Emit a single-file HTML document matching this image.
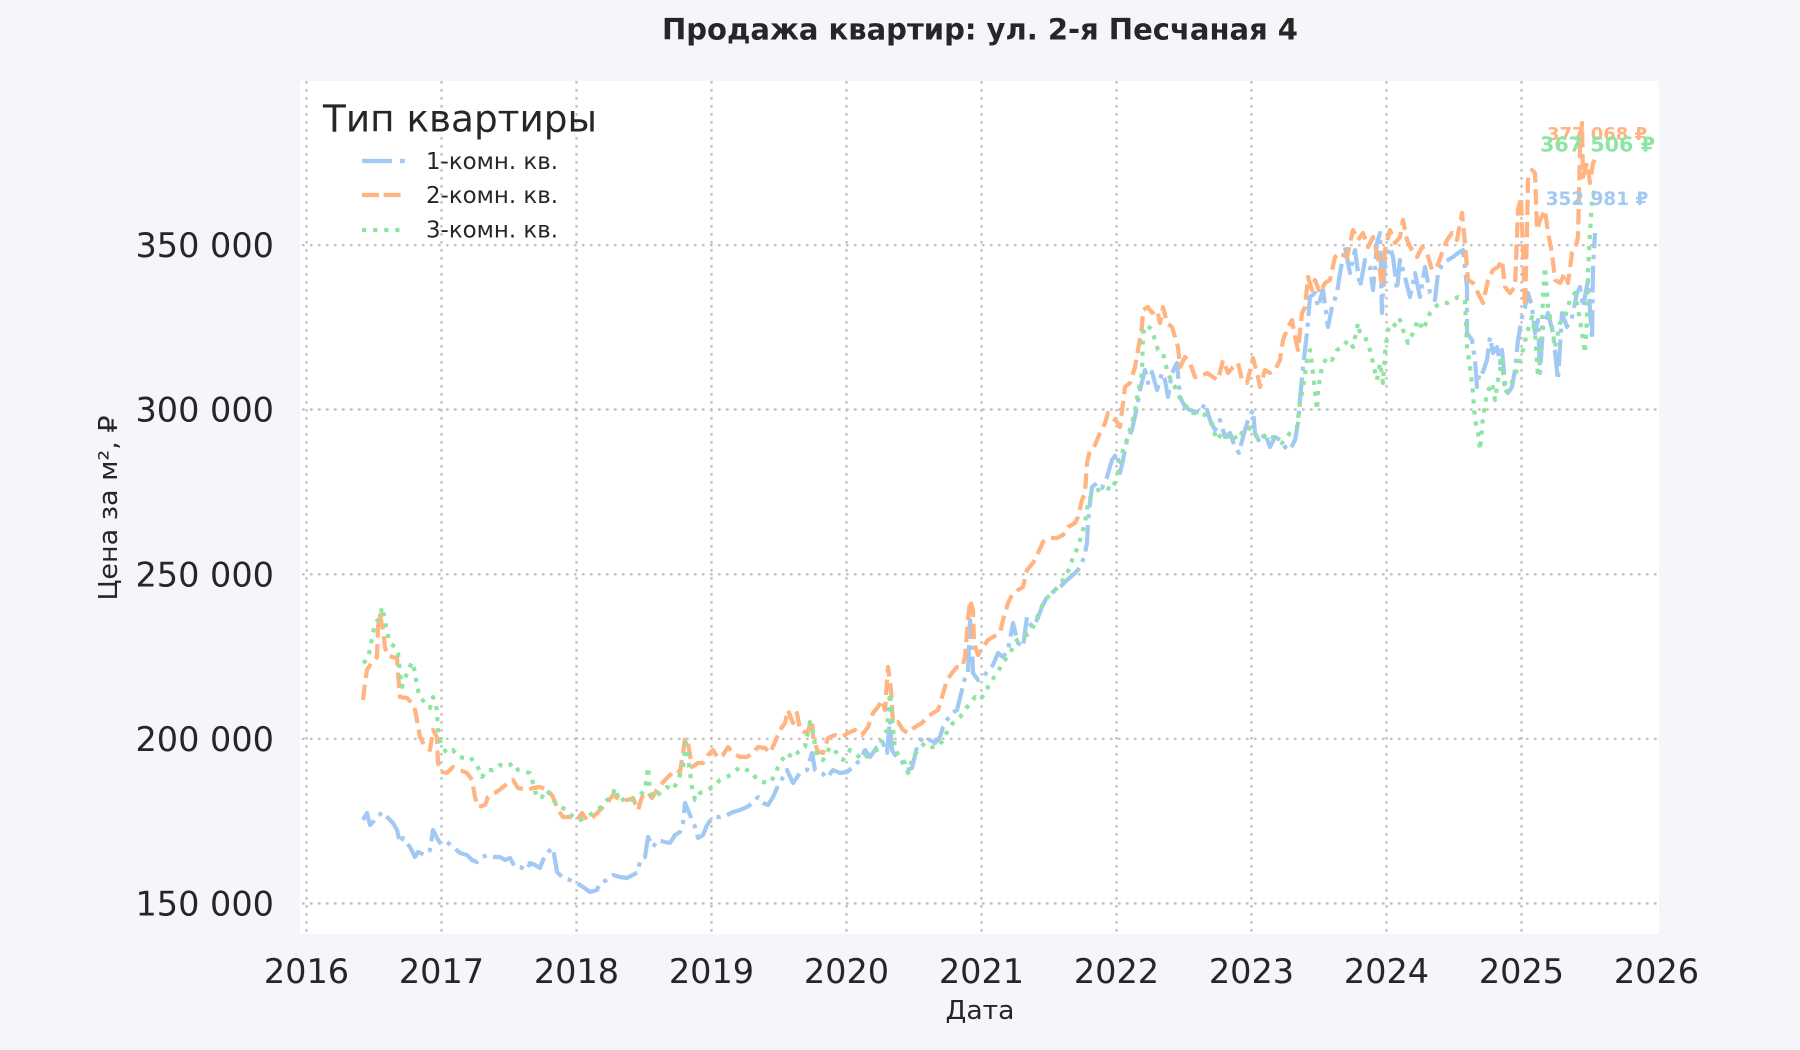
<!DOCTYPE html>
<html><head><meta charset="utf-8"><style>
html,body{margin:0;padding:0;background:#f4f6fa;}
svg{display:block;}
text{font-family:"DejaVu Sans","Liberation Sans",sans-serif;fill:#262626;}
</style></head><body>
<svg width="1800" height="1050" viewBox="0 0 1800 1050" xmlns="http://www.w3.org/2000/svg">
<rect x="0" y="0" width="1800" height="1050" fill="#f4f6fa"/>
<rect x="300" y="81" width="1359" height="853" fill="#ffffff"/>
<g stroke="#bdbdbd" stroke-width="2.2" stroke-dasharray="2.6 5.4" fill="none">
<line x1="306.5" y1="81" x2="306.5" y2="934"/>
<line x1="441.5" y1="81" x2="441.5" y2="934"/>
<line x1="576.5" y1="81" x2="576.5" y2="934"/>
<line x1="711.5" y1="81" x2="711.5" y2="934"/>
<line x1="846.5" y1="81" x2="846.5" y2="934"/>
<line x1="981.5" y1="81" x2="981.5" y2="934"/>
<line x1="1116.5" y1="81" x2="1116.5" y2="934"/>
<line x1="1251.5" y1="81" x2="1251.5" y2="934"/>
<line x1="1386.5" y1="81" x2="1386.5" y2="934"/>
<line x1="1521.5" y1="81" x2="1521.5" y2="934"/>
<line x1="302" y1="903.5" x2="1657" y2="903.5"/>
<line x1="302" y1="738.8" x2="1657" y2="738.8"/>
<line x1="302" y1="574.3" x2="1657" y2="574.3"/>
<line x1="302" y1="409.5" x2="1657" y2="409.5"/>
<line x1="302" y1="245.2" x2="1657" y2="245.2"/>
</g>
<!-- y tick labels -->
<g font-size="33.5" text-anchor="end">
<text x="274" y="915.5">150 000</text>
<text x="274" y="750.8">200 000</text>
<text x="274" y="586.3">250 000</text>
<text x="274" y="421.5">300 000</text>
<text x="274" y="257.2">350 000</text>
</g>
<!-- x tick labels -->
<g font-size="33.5" text-anchor="middle">
<text x="306.5" y="983">2016</text>
<text x="441.5" y="983">2017</text>
<text x="576.5" y="983">2018</text>
<text x="711.5" y="983">2019</text>
<text x="846.5" y="983">2020</text>
<text x="981.5" y="983">2021</text>
<text x="1116.5" y="983">2022</text>
<text x="1251.5" y="983">2023</text>
<text x="1386.5" y="983">2024</text>
<text x="1521.5" y="983">2025</text>
<text x="1656.5" y="983">2026</text>
</g>
<text x="980" y="1019" font-size="25.5" text-anchor="middle" textLength="69" lengthAdjust="spacingAndGlyphs">Дата</text>
<text transform="translate(117,508) rotate(-90)" font-size="25.5" text-anchor="middle" textLength="185" lengthAdjust="spacingAndGlyphs">Цена за м², ₽</text>
<text x="980" y="39.3" font-size="29.2" font-weight="bold" text-anchor="middle" textLength="636" lengthAdjust="spacingAndGlyphs">Продажа квартир: ул. 2-я Песчаная 4</text>

<g fill="none" stroke-width="4.2" stroke-linejoin="round">
<polyline stroke="#a1c9f4" stroke-dasharray="26.7 6.7 4.2 6.7" points="363,820 367,813 370,825 377,818 382,812 387,817 393,823 397,830 400,843 403,838 410,847 415,857 418,852 425,855 430,850 433,830 437,838 440,843 447,842 453,847 460,853 467,855 472,860 477,862 482,857 488,855 495,857 500,857 505,860 510,858 515,867 520,867 527,870 530,863 535,865 540,868 543,860 548,852 553,848 555,860 557,872 563,878 570,880 577,883 583,887 590,892 597,890 600,883 607,880 613,875 620,877 627,878 633,875 638,872 640,860 645,857 648,837 653,847 658,840 665,842 670,843 675,835 680,832 683,823 685,803 688,810 692,820 695,827 698,838 703,835 707,825 713,817 720,817 727,815 733,812 740,810 747,807 753,803 758,797 763,803 768,805 773,797 777,788 787,770 793,783 800,773 807,770 812,753 815,770 822,773 827,778 833,770 840,773 847,772 853,767 860,760 865,750 870,757 877,747 883,743 887,753 890,720 892,750 895,755 900,758 907,770 912,768 917,747 923,737 930,740 935,743 940,737 943,727 947,720 952,713 957,710 962,690 965,678 968,673 970,620 972,640 973,673 978,680 983,678 988,670 993,665 998,653 1003,657 1008,650 1013,623 1018,643 1023,647 1027,617 1032,627 1037,620 1042,607 1047,597 1053,592 1060,587 1067,580 1073,575 1078,570 1082,563 1085,553 1087,543 1088,523 1090,503 1092,487 1097,483 1102,488 1107,477 1112,460 1117,453 1120,473 1123,460 1127,440 1132,430 1137,407 1140,390 1145,370 1148,383 1152,372 1157,390 1162,373 1165,380 1168,397 1172,373 1177,363 1180,397 1185,407 1190,410 1197,412 1200,413 1205,403 1210,420 1215,430 1220,420 1225,437 1230,433 1235,447 1239,453 1243,437 1248,420 1253,410 1255,433 1260,443 1265,433 1270,447 1275,437 1280,440 1285,447 1290,450 1295,440 1298,423 1300,400 1303,367 1307,333 1310,297 1315,293 1318,307 1323,290 1328,327 1332,307 1337,293 1340,273 1345,247 1350,273 1355,250 1360,287 1365,260 1370,267 1373,290 1377,243 1380,233 1382,313 1385,260 1390,247 1393,257 1397,290 1400,260 1405,277 1410,297 1415,273 1420,297 1425,267 1430,293 1435,300 1438,273 1443,263 1448,260 1453,257 1458,253 1463,250 1467,287 1467,333 1472,340 1475,360 1477,387 1480,370 1483,372 1487,360 1490,337 1493,353 1497,347 1500,363 1502,350 1505,383 1508,393 1512,387 1515,370 1518,340 1522,317 1525,307 1528,293 1532,307 1535,333 1538,320 1540,373 1543,327 1548,313 1553,333 1558,380 1562,313 1567,327 1572,317 1577,293 1580,287 1583,307 1588,280 1592,340 1593,267 1595,233"/>
<polyline stroke="#ffb482" stroke-dasharray="15.4 6.7" points="363,700 365,683 367,670 372,662 377,657 378,627 380,615 383,630 385,647 387,655 392,657 397,658 398,673 400,697 407,698 412,703 415,710 417,720 420,737 425,747 430,750 433,730 437,737 438,763 442,772 447,773 453,767 460,770 467,773 472,780 475,797 478,807 485,805 488,797 495,793 502,788 508,783 513,780 518,788 527,790 533,788 540,787 548,790 553,797 558,810 563,817 570,817 577,820 582,813 587,820 593,817 600,810 607,803 613,795 620,800 628,800 633,798 638,810 642,797 647,792 652,798 658,788 665,780 670,775 675,770 680,772 683,753 685,738 688,743 692,767 698,763 703,763 708,755 713,750 718,758 723,755 728,747 733,753 740,757 747,757 753,753 758,747 765,748 770,753 775,742 780,730 785,723 788,710 793,723 797,713 800,730 807,733 812,720 813,737 818,752 823,753 828,738 835,735 842,737 848,733 855,730 862,735 868,727 873,713 878,707 882,700 885,710 888,667 891,690 893,723 898,722 903,730 908,733 915,727 922,723 927,717 933,713 938,710 942,697 947,680 952,673 957,667 962,667 965,657 968,620 970,600 973,610 974,643 978,655 983,647 988,640 993,637 1000,633 1003,620 1008,603 1013,593 1018,590 1023,587 1027,570 1033,563 1038,553 1043,542 1050,538 1057,538 1063,535 1068,527 1075,523 1078,517 1082,500 1085,493 1087,463 1090,450 1095,445 1100,433 1105,423 1108,413 1112,417 1117,422 1120,427 1125,387 1130,383 1135,367 1138,350 1142,327 1143,310 1148,307 1152,313 1157,310 1160,323 1163,307 1167,323 1172,327 1175,337 1178,347 1180,367 1185,357 1190,363 1195,377 1200,377 1207,373 1213,377 1218,380 1223,360 1228,373 1233,367 1238,363 1242,380 1247,383 1253,358 1258,377 1260,387 1265,370 1270,373 1275,370 1280,360 1283,340 1288,327 1292,320 1295,337 1298,350 1302,313 1305,307 1308,277 1312,290 1315,280 1320,293 1325,283 1330,280 1335,257 1340,253 1347,257 1353,230 1358,240 1363,233 1368,247 1373,237 1378,257 1382,287 1385,250 1390,230 1395,243 1400,237 1403,220 1407,240 1412,250 1417,257 1422,247 1427,253 1432,270 1437,267 1442,253 1447,240 1452,233 1457,240 1462,213 1465,243 1468,280 1473,283 1478,293 1483,303 1488,280 1493,270 1498,267 1502,260 1505,287 1510,293 1515,287 1518,210 1521,197 1523,250 1525,307 1527,233 1528,180 1532,170 1535,173 1537,230 1540,220 1545,210 1548,233 1552,253 1555,280 1560,283 1565,273 1568,283 1572,253 1575,250 1578,237 1580,150 1582,123 1583,177 1587,163 1590,183 1593,163 1597,156"/>
<polyline stroke="#8de5a1" stroke-dasharray="4.2 6.9" points="363,663 367,660 370,650 372,638 375,623 380,618 382,607 385,620 387,632 390,643 395,647 398,653 400,673 402,687 407,673 412,662 415,672 417,687 420,697 425,703 430,708 433,697 437,710 438,733 442,747 447,753 453,750 458,757 465,758 470,757 477,765 482,777 487,770 493,770 500,765 507,767 513,763 518,770 525,772 530,773 533,783 537,798 542,797 547,790 553,800 560,807 567,810 573,817 580,820 587,817 593,813 600,808 607,800 612,797 615,788 620,802 625,798 633,800 640,795 645,790 648,767 650,790 653,798 660,793 667,787 673,790 678,780 683,767 686,743 688,757 692,787 695,800 700,793 707,790 713,787 720,780 727,777 733,773 740,767 747,770 752,772 757,780 763,782 770,783 773,778 780,763 787,753 793,758 800,750 805,747 810,722 813,733 817,757 823,760 830,747 837,753 843,760 850,750 857,755 863,760 870,753 877,750 882,740 887,730 890,693 892,717 895,750 900,757 905,763 908,773 913,757 918,750 925,743 932,747 938,747 943,740 948,730 953,723 960,717 965,710 970,703 975,697 980,700 985,693 990,683 997,673 1003,663 1010,653 1017,640 1023,637 1030,633 1035,623 1040,610 1045,600 1052,593 1058,587 1065,577 1070,567 1073,557 1078,547 1082,533 1085,523 1088,503 1092,493 1098,490 1105,487 1112,490 1117,477 1120,463 1123,450 1128,437 1132,423 1135,410 1138,393 1142,373 1143,333 1147,325 1152,330 1155,340 1158,350 1163,353 1167,370 1172,383 1175,387 1178,393 1182,403 1187,407 1193,413 1200,413 1205,415 1210,420 1217,440 1222,433 1227,437 1232,433 1237,440 1242,433 1247,427 1252,430 1257,437 1262,440 1267,433 1272,437 1277,440 1282,443 1287,437 1292,430 1297,427 1300,403 1303,387 1307,360 1310,350 1313,373 1317,410 1318,390 1322,367 1327,357 1332,360 1337,350 1343,347 1348,340 1353,347 1358,323 1360,333 1365,337 1370,350 1373,363 1377,380 1380,363 1383,383 1385,353 1388,330 1392,323 1397,327 1400,320 1403,330 1408,343 1413,333 1418,320 1423,330 1430,313 1435,307 1440,303 1447,303 1453,300 1458,297 1465,300 1467,347 1470,367 1473,393 1475,420 1478,433 1480,450 1483,417 1487,393 1492,383 1495,400 1498,380 1502,360 1505,393 1508,390 1513,380 1518,367 1523,350 1527,333 1532,317 1535,333 1538,377 1542,327 1543,297 1545,267 1548,307 1552,327 1555,347 1560,323 1565,317 1570,300 1575,293 1580,320 1583,340 1585,353 1587,317 1588,273 1590,233 1592,200 1595,188"/>
</g>

<!-- end labels -->
<g font-weight="bold" text-anchor="middle">
<text x="1597" y="140" font-size="17.5" style="fill:#ffb482" textLength="100" lengthAdjust="spacingAndGlyphs">377 068 ₽</text>
<text x="1597.5" y="151.7" font-size="20.6" style="fill:#8de5a1" textLength="115" lengthAdjust="spacingAndGlyphs">367 506 ₽</text>
<text x="1597" y="205" font-size="18.4" style="fill:#a1c9f4" textLength="102.6" lengthAdjust="spacingAndGlyphs">352 981 ₽</text>
</g>

<!-- legend -->
<text x="323" y="131.7" font-size="37" textLength="274" lengthAdjust="spacingAndGlyphs">Тип квартиры</text>
<g fill="none" stroke-width="4.2">
<line x1="362" y1="161" x2="405" y2="161" stroke="#a1c9f4" stroke-dasharray="30 8 4.7 8"/>
<line x1="362" y1="195" x2="405" y2="195" stroke="#ffb482" stroke-dasharray="17 4.6"/>
<line x1="362" y1="230" x2="405" y2="230" stroke="#8de5a1" stroke-dasharray="4.2 6.9"/>
</g>
<g font-size="23">
<text x="426" y="169" textLength="132" lengthAdjust="spacingAndGlyphs">1-комн. кв.</text>
<text x="426" y="203" textLength="132" lengthAdjust="spacingAndGlyphs">2-комн. кв.</text>
<text x="426" y="237.5" textLength="132" lengthAdjust="spacingAndGlyphs">3-комн. кв.</text>
</g>
</svg>
</body></html>
